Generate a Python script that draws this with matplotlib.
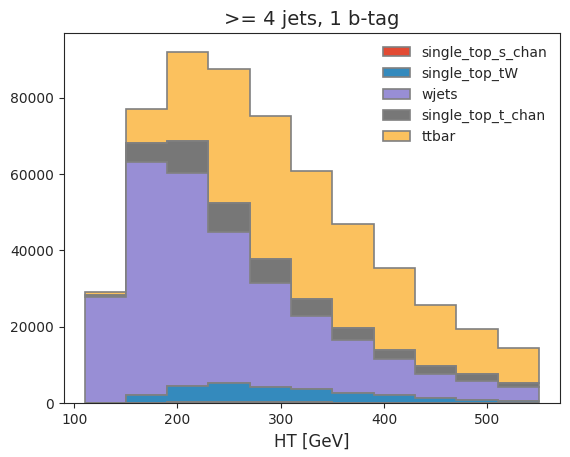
import numpy as np
import matplotlib
matplotlib.use("Agg")
import matplotlib.pyplot as plt
import seaborn as sns

# HT binning (GeV)
bin_edges = [110, 150, 190, 230, 270, 310, 350, 390, 430, 470, 510, 550]

# event counts per bin
single_top_s_chan = [10, 150, 250, 250, 200, 160, 120, 90, 60, 40, 30]
single_top_tW = [70, 2050, 4350, 4950, 4100, 3540, 2480, 1910, 1340, 860, 570]
wjets = [27600, 61100, 55600, 39600, 27200, 19200, 13800, 9600, 6300, 4900, 3600]
single_top_t_chan = [600, 4900, 8400, 7700, 6200, 4300, 3350, 2300, 1900, 1700, 1100]
ttbar = [870, 8900, 23400, 35100, 37400, 33600, 27150, 21400, 16000, 11900, 9100]

labels = ['single_top_s_chan', 'single_top_tW', 'wjets', 'single_top_t_chan', 'ttbar']
colors = ['#E24A33', '#348ABD', '#988ED5', '#777777', '#FBC15E']

sns.set_style('ticks')
plt.rcParams['font.family'] = ['DejaVu Sans']

centers = 0.5 * (np.array(bin_edges[:-1]) + np.array(bin_edges[1:]))
weights = [single_top_s_chan, single_top_tW, wjets, single_top_t_chan, ttbar]

fig = plt.figure(figsize=(5.7, 4.57), dpi=100)
ax = fig.add_axes([0.112, 0.118, 0.870, 0.810])

ax.hist([centers] * len(weights), bins=bin_edges, weights=weights, stacked=True,
        histtype='stepfilled', color=colors, label=labels,
        edgecolor='grey', linewidth=1.2)

ax.set_xlim(90, 570)
ax.set_ylim(0, 97000)
ax.set_xticks([100, 200, 300, 400, 500])
ax.set_yticks([0, 20000, 40000, 60000, 80000])
ax.tick_params(labelsize=10)
ax.set_xlabel('HT [GeV]', fontsize=12)
ax.set_title('>= 4 jets, 1 b-tag', fontsize=14)

# stacked hist lists legend top-down; put it back in stacking order
handles, hlabels = ax.get_legend_handles_labels()
ax.legend(handles[::-1], hlabels[::-1], loc='upper right', frameon=False, fontsize=10)

fig.savefig('out.png', dpi=100)
